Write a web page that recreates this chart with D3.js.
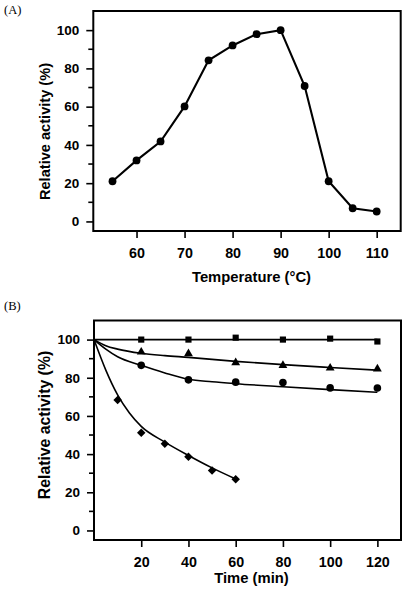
<!DOCTYPE html>
<html>
<head>
<meta charset="utf-8">
<script src="https://cdn.jsdelivr.net/npm/d3@7"></script>
<style>
  html, body { margin: 0; padding: 0; background: #fff; }
  svg { display: block; }
  text { font-family: "Liberation Sans", Arial, Helvetica, sans-serif; }
</style>
</head>
<body>
<script>
// ---------- Panel A data ----------
const tempA = [55, 60, 65, 70, 75, 80, 85, 90, 95, 100, 105, 110];
const activityA = [21, 31.9, 41.8, 60.1, 84.2, 92, 97.9, 100, 70.8, 21, 6.9, 5.2];
const xTicksA = [60, 70, 80, 90, 100, 110];

// ---------- Panel B data ----------
const timeB = [20, 40, 60, 80, 100, 120];
const squareB = [100, 100, 101, 100, 100.5, 99];
const triangleB = [93.5, 92.6, 87.9, 86.5, 85.1, 84.6];
const circleB = [86.5, 78.9, 77.7, 77.5, 74.7, 74.6];
const diamondTime = [10, 20, 30, 40, 50, 60];
const diamondB = [68.4, 51.2, 45.4, 38.6, 31.4, 26.8];
const xTicksB = [20, 40, 60, 80, 100, 120];

// fitted curves
const squareFitT = [0, 120];
const squareFitV = [100, 100];
const triangleFitT = [0, 5, 10, 20, 30, 40, 60, 80, 100, 120];
const triangleFitV = [100, 96.8, 95, 92.8, 91.6, 90.7, 88.6, 86.9, 85.4, 84];
const circleFitT = [0, 5, 10, 20, 30, 40, 50, 60, 80, 100, 120];
const circleFitV = [100, 95, 91, 86.5, 82.5, 79.2, 77.9, 76.9, 75.3, 73.8, 72.4];
const diamondFitT = [0, 5, 10, 15, 20, 30, 40, 50, 60];
const diamondFitV = [100, 84, 71, 61.5, 54.5, 46.3, 39.3, 32.8, 27];

const yTicks = [0, 20, 40, 60, 80, 100];
const yMinorTicks = [10, 30, 50, 70, 90];

const W = 404, H = 595;
const svg = d3.select("body").append("svg").attr("width", W).attr("height", H);

function drawFrameAndAxes(x, y, xTicks, opts) {
  const [x0, x1] = x.range();
  const [y0, y1] = y.range(); // y0 bottom, y1 top
  const g = svg.append("g");

  // y axis ticks
  const ya = g.append("g").attr("transform", `translate(${x0},0)`)
    .call(d3.axisLeft(y).tickValues(yTicks).tickSize(7).tickPadding(7).tickFormat(d3.format("d")));
  ya.select(".domain").remove();
  ya.selectAll(".tick line").attr("stroke", "#000").attr("stroke-width", 1.6);
  ya.selectAll(".tick text").attr("font-size", 13.5).attr("font-weight", "bold")
    .attr("fill", "#000").style("font-family", '"Liberation Sans", Arial, sans-serif');
  g.append("g").selectAll("line").data(yMinorTicks).join("line")
    .attr("x1", x0 - 5).attr("x2", x0).attr("y1", d => y(d)).attr("y2", d => y(d))
    .attr("stroke", "#000").attr("stroke-width", 1.6);

  // x axis ticks
  const xa = g.append("g").attr("transform", `translate(0,${y0})`)
    .call(d3.axisBottom(x).tickValues(xTicks).tickSize(7).tickPadding(10).tickFormat(d3.format("d")));
  xa.select(".domain").remove();
  xa.selectAll(".tick line").attr("stroke", "#000").attr("stroke-width", 1.6);
  xa.selectAll(".tick text").attr("font-size", 14.3).attr("font-weight", "bold")
    .attr("fill", "#000").style("font-family", '"Liberation Sans", Arial, sans-serif');

  // frame
  g.append("rect").attr("x", x0).attr("y", y1).attr("width", x1 - x0).attr("height", y0 - y1)
    .attr("fill", "none").attr("stroke", "#000").attr("stroke-width", 2);

  // titles
  g.append("text").attr("x", opts.xTitleX).attr("y", opts.xTitleY).attr("text-anchor", "middle")
    .attr("font-size", opts.xTitleSize).attr("font-weight", "bold").text(opts.xTitle);
  g.append("text").attr("transform", `translate(${opts.yTitleX},${opts.yTitleY}) rotate(-90)`)
    .attr("text-anchor", "middle").attr("font-size", opts.yTitleSize).attr("font-weight", "bold")
    .text("Relative activity (%)");
  g.append("text").attr("x", 4).attr("y", opts.labelY).attr("font-size", 12.5)
    .style("font-family", '"Liberation Serif", "Times New Roman", serif').text(opts.label);
}

// ---------- Panel A ----------
const xA = d3.scaleLinear().domain([51, 115]).range([93.3, 400.7]);
const yA = d3.scaleLinear().domain([-5, 110]).range([231, 11]);
drawFrameAndAxes(xA, yA, xTicksA, {
  xTitle: "Temperature (\u00B0C)", xTitleX: 251.5, xTitleY: 282, xTitleSize: 14.8,
  yTitleX: 50, yTitleY: 131.5, yTitleSize: 14.6, label: "(A)", labelY: 14
});
const dataA = tempA.map((t, i) => ({ x: t, y: activityA[i] }));
svg.append("path").datum(dataA)
  .attr("d", d3.line().x(d => xA(d.x)).y(d => yA(d.y)))
  .attr("fill", "none").attr("stroke", "#000").attr("stroke-width", 2.1);
svg.append("g").selectAll("circle").data(dataA).join("circle")
  .attr("cx", d => xA(d.x)).attr("cy", d => yA(d.y)).attr("r", 3.9).attr("fill", "#000");

// ---------- Panel B ----------
const xB = d3.scaleLinear().domain([0, 130]).range([94, 401]);
const yB = d3.scaleLinear().domain([-5, 110]).range([540, 320.5]);
drawFrameAndAxes(xB, yB, xTicksB, {
  xTitle: "Time (min)", xTitleX: 251.5, xTitleY: 583, xTitleSize: 14.8,
  yTitleX: 50, yTitleY: 425, yTitleSize: 15.8, label: "(B)", labelY: 310
});

const fitLine = d3.line().x(d => xB(d[0])).y(d => yB(d[1])).curve(d3.curveMonotoneX);
const fits = [
  [squareFitT, squareFitV],
  [triangleFitT, triangleFitV],
  [circleFitT, circleFitV],
  [diamondFitT, diamondFitV]
];
svg.append("g").selectAll("path").data(fits).join("path")
  .attr("d", f => fitLine(f[0].map((t, i) => [t, f[1][i]])))
  .attr("fill", "none").attr("stroke", "#000").attr("stroke-width", 1.6);

const sym = (type, size) => d3.symbol().type(type).size(size)();
const gm = svg.append("g");
gm.selectAll(".sq").data(timeB.map((t, i) => [t, squareB[i]])).join("path")
  .attr("transform", d => `translate(${xB(d[0])},${yB(d[1])})`)
  .attr("d", sym(d3.symbolSquare, 38)).attr("fill", "#000");
gm.selectAll(".tr").data(timeB.map((t, i) => [t, triangleB[i]])).join("path")
  .attr("transform", d => `translate(${xB(d[0])},${yB(d[1])})`)
  .attr("d", sym(d3.symbolTriangle, 34)).attr("fill", "#000");
gm.selectAll(".ci").data(timeB.map((t, i) => [t, circleB[i]])).join("circle")
  .attr("cx", d => xB(d[0])).attr("cy", d => yB(d[1])).attr("r", 3.8).attr("fill", "#000");
gm.selectAll(".di").data(diamondTime.map((t, i) => [t, diamondB[i]])).join("path")
  .attr("transform", d => `translate(${xB(d[0])},${yB(d[1])}) rotate(45)`)
  .attr("d", sym(d3.symbolSquare, 36)).attr("fill", "#000");
</script>
</body>
</html>
